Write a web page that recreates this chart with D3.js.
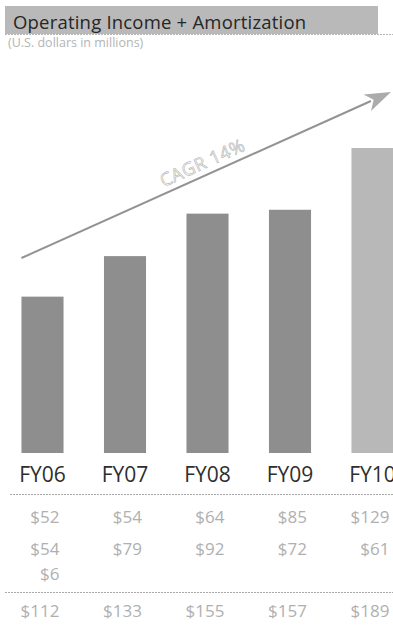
<!DOCTYPE html>
<html>
<head>
<meta charset="utf-8">
<script src="https://cdn.jsdelivr.net/npm/d3@7/dist/d3.min.js"></script>
<style>
  html, body { margin: 0; padding: 0; background: #fff; }
  svg { display: block; }
  text { font-family: "Open Sans", "Noto Sans", sans-serif; }
</style>
</head>
<body>
<svg id="chart" width="393" height="634"></svg>
<script>
// Operating income + amortization, FY06–FY10 (US$ millions)
const fiscalYears     = ["FY06", "FY07", "FY08", "FY09", "FY10"];
const operatingIncome = [52, 54, 64, 85, 129];
const amortization    = [54, 79, 92, 72, 61];
const otherItems      = [6, null, null, null, null];
const totals          = [112, 133, 155, 157, 189];
const cagrLabel       = "CAGR 14%";
const titleText       = "Operating Income + Amortization";
const subtitleText    = "(U.S. dollars in millions)";

const W = 393, H = 634;
const svg = d3.select("#chart");

// scales
const x = d3.scalePoint().domain(fiscalYears).range([42.5, 372.5]);
const barW = x.step() * 0.51;
const y = d3.scaleLinear().domain([31, 189]).range([453, 148]);

// title band
svg.append("rect")
  .attr("x", 5).attr("y", 6).attr("width", 373).attr("height", 28)
  .attr("fill", "#b9b9b9");
svg.append("text")
  .attr("x", 13).attr("y", 29)
  .attr("font-size", 18.5)
  .attr("letter-spacing", 0.2)
  .attr("fill", "#262626")
  .text(titleText);
svg.append("line")
  .attr("x1", 5).attr("x2", W).attr("y1", 34.5).attr("y2", 34.5)
  .attr("stroke", "#b5b5b5").attr("stroke-width", 1)
  .attr("stroke-dasharray", "2 1");

svg.append("text")
  .attr("x", 8).attr("y", 47)
  .attr("font-size", 12.5)
  .attr("fill", "#b4b4b4")
  .text(subtitleText);

// bars
const barData = fiscalYears.map((fy, i) => ({ fy, total: totals[i], last: i === fiscalYears.length - 1 }));
svg.append("g").selectAll("rect")
  .data(barData)
  .join("rect")
  .attr("x", d => x(d.fy) - barW / 2)
  .attr("y", d => y(d.total))
  .attr("width", barW)
  .attr("height", d => y.range()[0] - y(d.total))
  .attr("fill", d => d.last ? "#b8b8b8" : "#8e8e8e");

// trend arrow
const x0 = x(fiscalYears[0]) - barW / 2;
const ax0 = x0, ay0 = y(132);
const ax1 = W - 2, ay1 = y(218);
const ang = Math.atan2(ay1 - ay0, ax1 - ax0);
const headLen = 26, headHalf = 9;
const bx = ax1 - headLen * Math.cos(ang), by = ay1 - headLen * Math.sin(ang);
svg.append("line")
  .attr("x1", ax0).attr("y1", ay0)
  .attr("x2", bx + 4 * Math.cos(ang)).attr("y2", by + 4 * Math.sin(ang))
  .attr("stroke", "#939393").attr("stroke-width", 2);
const px = -Math.sin(ang), py = Math.cos(ang);
svg.append("path")
  .attr("d", d3.line()([
    [ax1, ay1],
    [bx + px * headHalf, by + py * headHalf],
    [bx + 7 * Math.cos(ang), by + 7 * Math.sin(ang)],
    [bx - px * headHalf, by - py * headHalf]
  ]) + "Z")
  .attr("fill", "#ababab");

// CAGR label along the arrow
const lx = 205, ly = ay0 + (lx - ax0) * Math.tan(ang) - 7;
svg.append("text")
  .attr("transform", `translate(${lx},${ly}) rotate(${ang * 180 / Math.PI})`)
  .attr("text-anchor", "middle")
  .attr("font-size", 18)
  .attr("letter-spacing", 0.5)
  .attr("fill", "#f7f7f7")
  .attr("stroke", "#b0b0b0")
  .attr("stroke-width", 0.55)
  .text(cagrLabel);

// category labels
svg.append("g").selectAll("text")
  .data(fiscalYears)
  .join("text")
  .attr("x", d => x(d))
  .attr("y", 482)
  .attr("text-anchor", "middle")
  .attr("font-size", 21)
  .attr("fill", "#2e2e2e")
  .text(d => d);

// separators
svg.append("line")
  .attr("x1", 10).attr("x2", W).attr("y1", 494.5).attr("y2", 494.5)
  .attr("stroke", "#a9a9a9").attr("stroke-width", 1)
  .attr("stroke-dasharray", "2 1");
svg.append("line")
  .attr("x1", 5).attr("x2", W).attr("y1", 592.5).attr("y2", 592.5)
  .attr("stroke", "#a9a9a9").attr("stroke-width", 1)
  .attr("stroke-dasharray", "2 1");

// value rows
const fmt = v => "$" + v;
const rows = [
  { values: operatingIncome, yPos: 523 },
  { values: amortization,    yPos: 555 },
  { values: otherItems,      yPos: 580 },
  { values: totals,          yPos: 617 }
];
rows.forEach(row => {
  svg.append("g").selectAll("text")
    .data(fiscalYears.map((fy, i) => ({ fy, v: row.values[i] })).filter(d => d.v != null))
    .join("text")
    .attr("x", d => x(d.fy) + 17)
    .attr("y", row.yPos)
    .attr("text-anchor", "end")
    .attr("font-size", 17)
    .attr("fill", "#b0b0b0")
    .text(d => fmt(d.v));
});
</script>
</body>
</html>
